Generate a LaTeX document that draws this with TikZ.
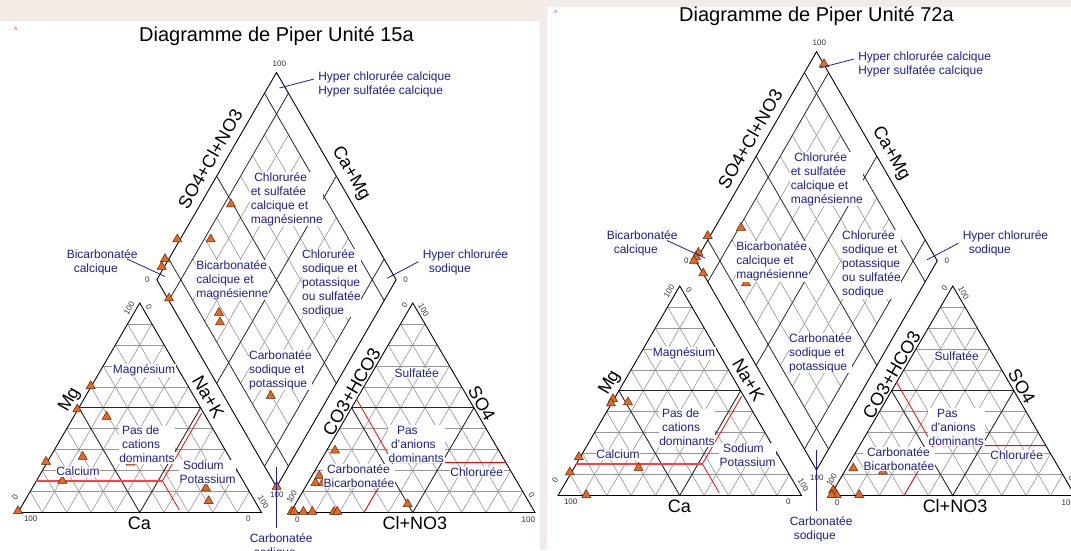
\documentclass[tikz,border=0pt]{standalone}
\usepackage{fontspec}
\setmainfont{Liberation Sans}
\usetikzlibrary{calc,shapes.geometric}

\definecolor{lbl}{RGB}{30,30,150}
\definecolor{mko}{RGB}{230,104,34}
\definecolor{mkd}{RGB}{90,40,10}
\definecolor{gridgray}{RGB}{150,150,150}
\definecolor{paper}{RGB}{243,236,230}

\tikzset{
  gridg/.style={draw=gridgray, line width=0.6pt},
  gridb/.style={draw=black!85, line width=0.8pt},
  frame/.style={draw=black, line width=0.9pt},
  redline/.style={draw=red, line width=0.8pt},
  redwide/.style={draw=red!75, line width=1.3pt},
  lab/.style={text=lbl, font=\fontsize{12}{14}\selectfont, fill=white, inner sep=0.6pt, align=left},
  axis/.style={font=\fontsize{18}{20}\selectfont, inner sep=0pt},
  num/.style={font=\fontsize{8}{9}\selectfont, inner sep=0pt, text=black!80},
  leader/.style={draw=lbl, line width=0.8pt},
  mk/.style={regular polygon, regular polygon sides=3, minimum size=10.5pt, inner sep=0pt,
             fill=mko, draw=mkd, line width=0.5pt},
  ttl/.style={font=\fontsize{20}{22}\selectfont, inner sep=0pt},
  caret/.style={text=red, font=\fontsize{7}{7}\selectfont, inner sep=0pt},
}

% ternary grid of a triangle: #1 bottom left, #2 bottom right, #3 apex
\newcommand{\trigrid}[3]{%
  \foreach \i in {1,...,9}{%
    \pgfmathsetmacro{\f}{\i/10}%
    \pgfmathsetmacro{\g}{1-\i/10}%
    \draw[gridg] ($(#1)!\f!(#3)$) -- ($(#2)!\f!(#3)$);
    \draw[gridg] ($(#1)!\f!(#2)$) -- ($(#2)!\g!(#3)$);
    \draw[gridg] ($(#1)!\f!(#2)$) -- ($(#1)!\f!(#3)$);
  }
  \draw[gridb] ($(#1)!.5!(#3)$) -- ($(#2)!.5!(#3)$);
  \draw[gridb] ($(#1)!.5!(#3)$) -- ($(#1)!.5!(#2)$) -- ($(#2)!.5!(#3)$);
  \draw[frame] (#1) -- (#2) -- (#3) -- cycle;
}

% grid of the diamond: #1 bottom, #2 left, #3 top, #4 right
\newcommand{\diagrid}[4]{%
  \foreach \q in {0.2,0.3,0.4,0.6,0.7,0.8}{%
    \coordinate (p0) at ($(#1)!\q!(#4)$);
    \coordinate (p1) at ($(#2)!\q!(#3)$);
    \draw[gridg] ($(p0)!0.1!(p1)$) -- ($(p0)!0.9!(p1)$);
    \coordinate (r0) at ($(#1)!\q!(#2)$);
    \coordinate (r1) at ($(#4)!\q!(#3)$);
    \draw[gridg] ($(r0)!0.1!(r1)$) -- ($(r0)!0.9!(r1)$);
  }
  \foreach \q in {0.1,0.5,0.9}{%
    \draw[gridb] ($(#1)!\q!(#4)$) -- ($(#2)!\q!(#3)$);
    \draw[gridb] ($(#1)!\q!(#2)$) -- ($(#4)!\q!(#3)$);
  }
  \draw[frame] (#1) -- (#2) -- (#3) -- (#4) -- cycle;
}

% triangles, diamond, red boundaries and scale numbers
% #1 name prefix, #2 top of the diamond
\newcommand{\piperframe}[2]{%
  \coordinate (ca) at (18,512.5);
  \coordinate (cb) at (261.5,512.5);
  \coordinate (cc) at (139.75,303);
  \coordinate (aa) at (290.5,512.5);
  \coordinate (ab) at (535,512.5);
  \coordinate (ac) at (412.75,303);
  \pgfmathsetmacro{\dmid}{(#2+487)/2}%
  \pgfmathsetmacro{\dhw}{(487-#2)/2/1.7320508}%
  \coordinate (db) at (276.5,487);
  \coordinate (dt) at (276.5,#2);
  \coordinate (dl) at (276.5-\dhw,\dmid);
  \coordinate (dr) at (276.5+\dhw,\dmid);
  \trigrid{ca}{cb}{cc}
  \trigrid{aa}{ab}{ac}
  \diagrid{db}{dl}{dt}{dr}
  % cation facies limits
  \draw[redwide] (36.4,480.9) -- (162.4,480.9);
  \draw[redline] (162.4,480.9) -- (201.7,413.2);
  \draw[redline] (162.4,480.9) -- (179.3,510);
  % anion facies limits
  \draw[redline] (356.5,399) -- (393,462.6) -- (505,462.6);
  \draw[redline] (393,462.6) -- (364,512.5);
  % scale numbers
  \node[num] (#1n1) at ($(ca)+(12.7,6.5)$) {100};
  \node[num, rotate=60] (#1n2) at ($(ca)+(-3,-15.8)$) {0};
  \node[num] (#1n3) at ($(cb)+(-13.2,5.8)$) {0};
  \node[num, rotate=-60] (#1n4) at ($(cb)+(1.8,-10.8)$) {100};
  \node[num, rotate=60] (#1n5) at ($(cc)+(-10.6,5.3)$) {100};
  \node[num, rotate=-60] (#1n6) at ($(cc)+(9,3.7)$) {0};
  \node[num] (#1n7) at ($(aa)+(6.8,6.8)$) {0};
  \node[num, rotate=60] (#1n8) at ($(aa)+(1.2,-15.8)$) {100};
  \node[num] (#1n9) at ($(ab)+(-6.7,6.8)$) {100};
  \node[num, rotate=-60] (#1n10) at ($(ab)+(-3.3,-17.5)$) {0};
  \node[num, rotate=60] (#1n11) at ($(ac)+(-8.2,2)$) {0};
  \node[num, rotate=-60] (#1n12) at ($(ac)+(10.8,7)$) {100};
  \node[num] (#1n13) at ($(dt)+(2.8,-8.5)$) {100};
  \node[num] (#1n14) at ($(dl)+(-9.5,0)$) {0};
  \node[num] (#1n15) at ($(dr)+(9.5,0)$) {0};
  \node[num] (#1n16) at ($(db)+(0.3,8)$) {100};
}

% facies names, axis titles and heading
% #1 name prefix, #2 vertical offset of the upper part, #3 heading
\newcommand{\piperlabels}[3]{%
  \node[caret] (#1car) at (15.8,30.5) {\textasciicircum};
  \node[ttl] (#1ttl) at (276.5,36+#2) {#3};
  % diamond
  \node[lab, anchor=west] (#1hyp) at (317.5,84+#2) {Hyper chlorurée calcique\\Hyper sulfatée calcique};
  \node[lab, anchor=west] (#1top) at (250,199+#2) {\hspace*{3.5pt}Chlorurée\\et sulfatée\\calcique et\\magnésienne};
  \node[lab, anchor=west] (#1lft) at (195.5,280+#2/2) {Bicarbonatée\\calcique et\\magnésienne};
  \node[lab, anchor=west] (#1rgt) at (301.3,283+#2/2) {Chlorurée\\sodique et\\potassique\\ou sulfatée\\sodique};
  \node[lab, anchor=west] (#1bot) at (248.3,370) {Carbonatée\\sodique et\\potassique};
  \node[lab, anchor=west] (#1bic) at (66,262+#2/2) {Bicarbonatée\\\hspace*{7pt}calcique};
  \node[lab, anchor=west] (#1hcs) at (422,262+#2/2) {Hyper chlorurée\\\hspace*{6pt}sodique};
  \node[lab, anchor=west] (#1cs) at (249,546) {Carbonatée\\\hspace*{4pt}sodique};
  \coordinate (#1hypA) at (314,79+#2);   \coordinate (#1hypB) at (279.5,88+#2);
  \coordinate (#1bicA) at (127,259+#2/2); \coordinate (#1bicB) at (165,276.5+#2/2);
  \coordinate (#1hcsA) at (418.4,261.7+#2/2); \coordinate (#1hcsB) at (387,278.3+#2/2);
  \coordinate (#1csA) at (276.7,466.7);  \coordinate (#1csB) at (276.7,528.3);
  \draw[leader] (#1hypA) -- (#1hypB);
  \draw[leader] (#1bicA) -- (#1bicB);
  \draw[leader] (#1hcsA) -- (#1hcsB);
  \draw[leader] (#1csA) -- (#1csB);
  % cation triangle
  \node[lab] (#1mg) at (144,370.7) {Magnésium};
  \node[lab, anchor=west] (#1pdc) at (118.5,444.5) {\hspace*{2.7pt}Pas de\\\hspace*{2.7pt}cations\\dominants};
  \node[lab] (#1cal) at (78,471.7) {Calcium};
  \node[lab, anchor=west] (#1nak) at (178.8,472.3) {\hspace*{3.4pt}Sodium\\Potassium};
  % anion triangle
  \node[lab] (#1sul) at (416.7,372.7) {Sulfatée};
  \node[lab, anchor=west] (#1pda) at (387.8,444) {\hspace*{8.4pt}Pas\\\hspace*{2.4pt}d'anions\\dominants};
  \node[lab] (#1chl) at (476.7,471.7) {Chlorurée};
  \node[lab, anchor=west] (#1cbb) at (322.8,476) {\hspace*{3.4pt}Carbonatée\\Bicarbonatée};
  % axis titles
  \node[axis, rotate=60] (#1x1) at (210,159+#2) {SO4+Cl+NO3};
  \node[axis, rotate=-60] (#1x2) at (350.7,173.3+#2) {Ca+Mg};
  \node[axis, rotate=60] (#1x3) at (70,400) {Mg};
  \node[axis, rotate=-60] (#1x4) at (208.3,396.7) {Na+K};
  \node[axis] (#1x5) at (139.3,523.3) {Ca};
  \node[axis, rotate=60] (#1x6) at (351.7,391.7) {CO3+HCO3};
  \node[axis, rotate=-60] (#1x7) at (481.7,403.3) {SO4};
  \node[axis] (#1x8) at (415,522.7) {Cl+NO3};
}

\begin{document}
\begin{tikzpicture}[x=1pt,y=-1pt]
\useasboundingbox (0,0) rectangle (1071,550);
\fill[white] (0,0) rectangle (1071,550);
\fill[paper] (0,0) rectangle (547,20.5);
\fill[paper] (540,0) rectangle (547,550);
\fill[paper] (547,0) rectangle (1071,7);

\begin{scope}
  \piperframe{A}{72.5}
\end{scope}
\begin{scope}[shift={(540,-17)}]
  \piperframe{B}{68.7}
\end{scope}

% samples, unit 15a
\foreach \p [count=\n] in {(231,204.3),(177.3,239.3),(210.7,239.3),(165,259),(161.7,266.7),
  (169,298.3),(219,312.7),(220,322.3),(270.7,395.7),(276.7,486.7),
  (90.7,386),(77.3,409.3),(106.7,416.7),(46,461.7),(82.7,456.7),(130.7,462.5),
  (62.3,480.7),(206,488.3),(208.7,501),(18,511),
  (335,450.5),(319.3,476),(315.5,483),(323,483),(407.7,504),
  (291.7,511.7),(294.3,511.7),(303.3,511.7),(312.3,511.7),(334,511.7),(337.3,511.7)}
  \node[mk] (sa\n) at \p {};

% samples, unit 72a
\foreach \p [count=\n] in {(824,64),(741,227.7),(707.7,236),(698.3,252.7),(696,256.7),(694,260.7),
  (703.3,273.3),(746,283.3),
  (613,399),(610.9,403.3),(628,402.3),(578.8,457),(569.9,472.3),(638.6,467.7),(586.3,495),
  (853.3,468.3),(833.3,490),(835,492.7),(836.7,495),(831.7,495),(859.3,495),(883,471.5)}
  \node[mk] (sb\n) at \p {};

\begin{scope}
  \piperlabels{A}{0}{Diagramme de Piper Unité 15a}
\end{scope}
\begin{scope}[shift={(540,-17)}]
  \piperlabels{B}{-3}{Diagramme de Piper Unité 72a}
\end{scope}
\end{tikzpicture}
\end{document}
